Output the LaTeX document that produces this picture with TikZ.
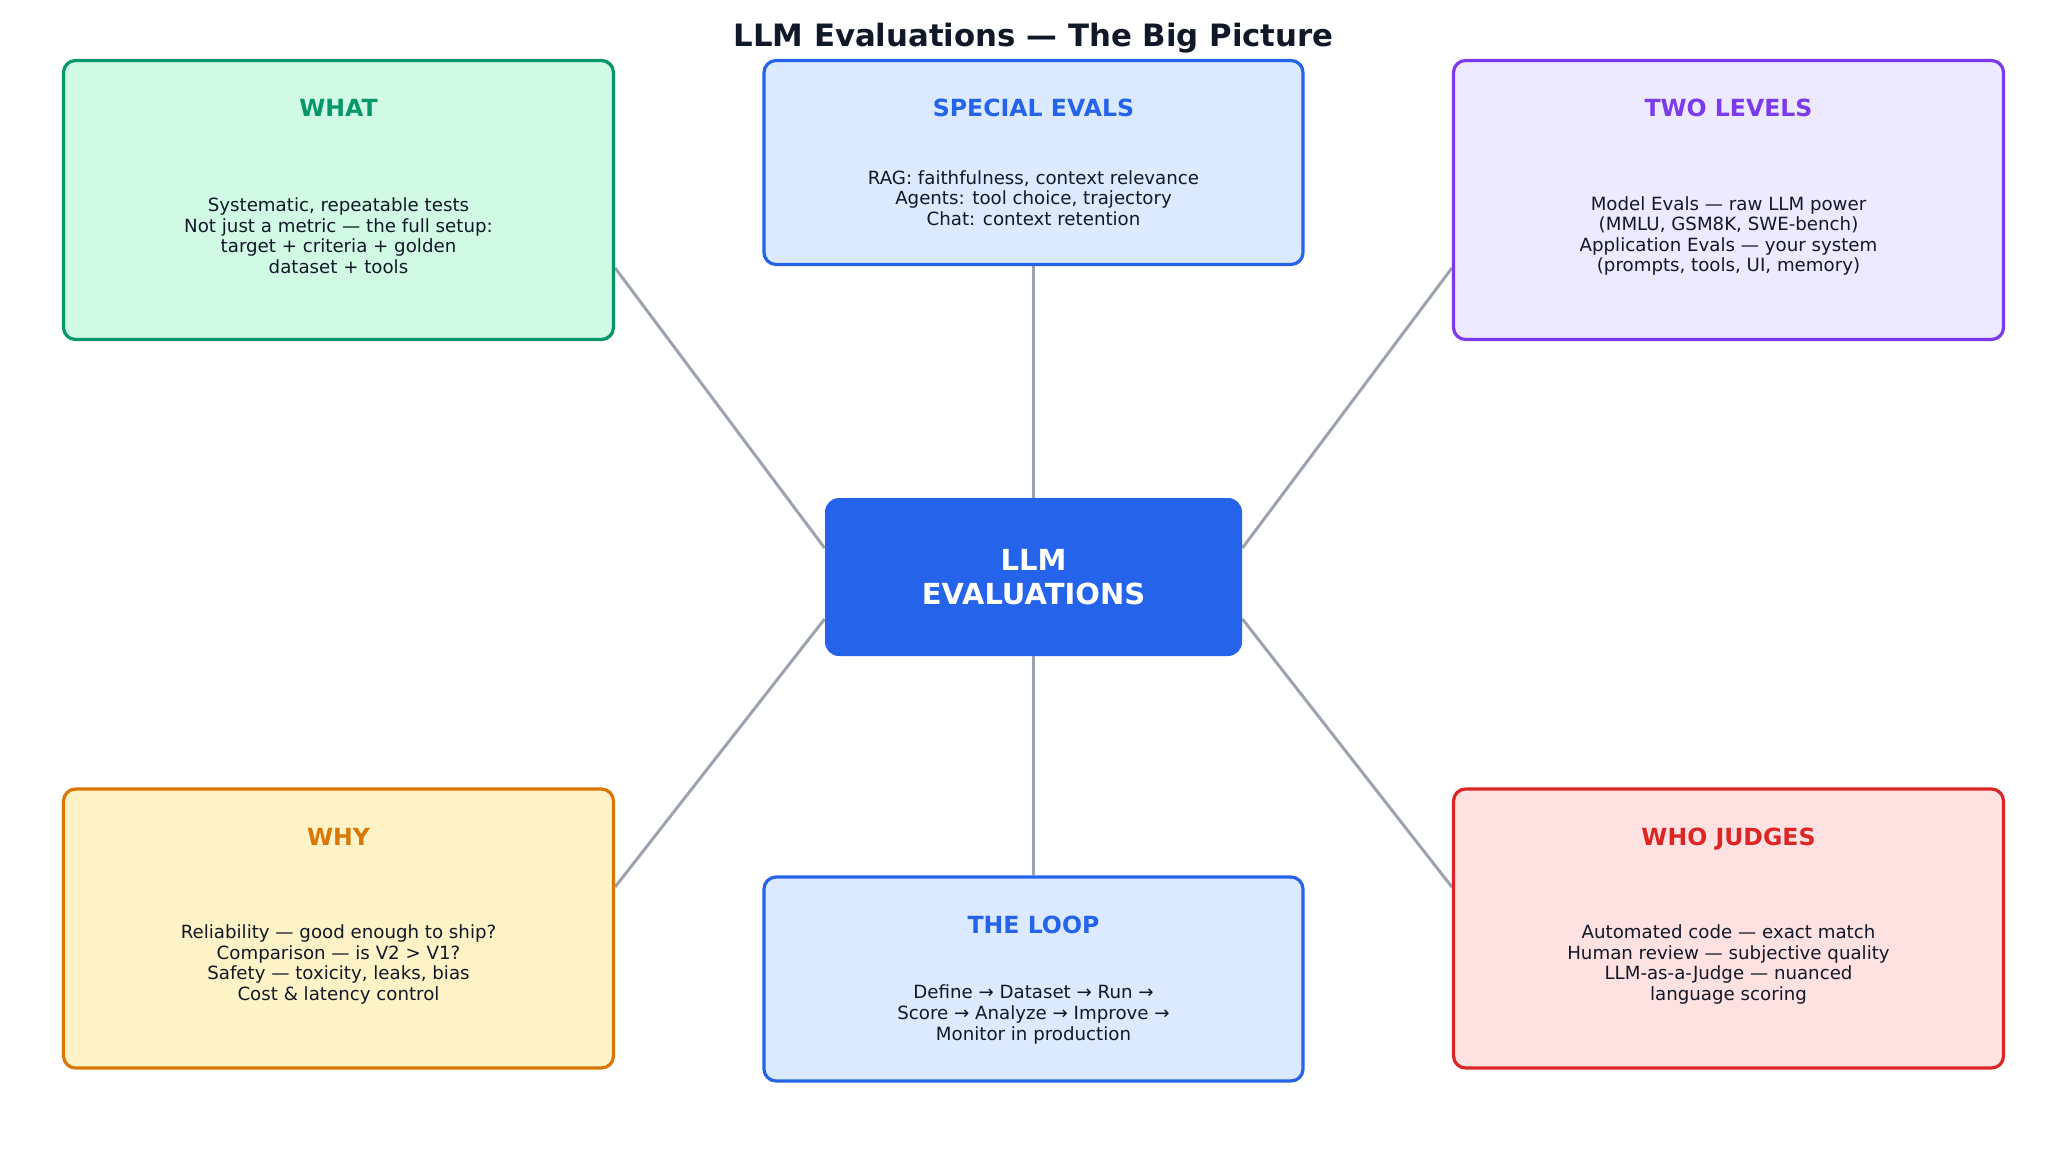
\documentclass[tikz,border=0pt]{standalone}
\usepackage{fontspec}
\setmainfont{DejaVu Sans}
\usepackage{tikz}
\usetikzlibrary{positioning,backgrounds}
\definecolor{inkdark}{HTML}{111827}
\definecolor{spokegray}{HTML}{9CA3AF}
\definecolor{hubblue}{HTML}{2563EB}
\definecolor{whatline}{HTML}{059669}
\definecolor{whatfill}{HTML}{D1FAE5}
\definecolor{bluefill}{HTML}{DBEAFE}
\definecolor{twoline}{HTML}{7C3AED}
\definecolor{twofill}{HTML}{EDE9FE}
\definecolor{whyline}{HTML}{D97706}
\definecolor{whyfill}{HTML}{FEF3C7}
\definecolor{wholine}{HTML}{DC2626}
\definecolor{whofill}{HTML}{FEE2E2}

\begin{document}
\begin{tikzpicture}[x = .5pt, y = -.5pt,
    card/.style 2 args = {draw = #1, fill = #2, line width = 1.6pt, rounded corners = 6pt, inner sep = 0pt},
    bigcard/.style = {minimum width = 275pt, minimum height = 139.5pt},
    midcard/.style = {minimum width = 269.5pt, minimum height = 102pt},
    cardhead/.style = {font = \fontsize{11.8}{13}\selectfont\bfseries, text = #1, text depth = 0pt},
    cardbody/.style = {font = \fontsize{9.1}{10.3}\selectfont, text = inkdark, align = center},
    spoke/.style = {draw = spokegray, line width = 1.5pt}]
    \useasboundingbox (0,0) rectangle (2067,1156);
    \node[font = \fontsize{15.4}{18}\selectfont\bfseries, text = inkdark] (title) at (1033.5,38) {LLM Evaluations — The Big Picture};

    % centre
    \node[fill = hubblue, rounded corners = 7pt, minimum width = 208.5pt, minimum height = 79pt, text = white, align = center,
        font = \fontsize{14.5}{17}\selectfont\bfseries] (hub) at (1033.5,577) {LLM\\EVALUATIONS};

    % top row
    \node[card = {whatline}{whatfill}, bigcard] (what) at (338.5,200) {};
    \node[cardhead = whatline] (whathead) at ([yshift = -24.5pt]what.north) {WHAT};
    \node[cardbody] (whatbody) at ([yshift = -88.5pt]what.north) {Systematic, repeatable tests\\Not just a metric — the full setup:\\target + criteria + golden\\dataset + tools};

    \node[card = {hubblue}{bluefill}, midcard] (special) at (1033.5,162.5) {};
    \node[cardhead = hubblue] (specialhead) at ([yshift = -24.5pt]special.north) {SPECIAL EVALS};
    \node[cardbody] (specialbody) at ([yshift = -69.5pt]special.north) {RAG: faithfulness, context relevance\\Agents: tool choice, trajectory\\Chat: context retention};

    \node[card = {twoline}{twofill}, bigcard] (two) at (1728.5,200) {};
    \node[cardhead = twoline] (twohead) at ([yshift = -24.5pt]two.north) {TWO LEVELS};
    \node[cardbody] (twobody) at ([yshift = -88.5pt]two.north) {Model Evals — raw LLM power\\(MMLU, GSM8K, SWE-bench)\\Application Evals — your system\\(prompts, tools, UI, memory)};

    % bottom row
    \node[card = {whyline}{whyfill}, bigcard] (why) at (338.5,928.5) {};
    \node[cardhead = whyline] (whyhead) at ([yshift = -24.5pt]why.north) {WHY};
    \node[cardbody] (whybody) at ([yshift = -88.5pt]why.north) {Reliability — good enough to ship?\\Comparison — is V2 > V1?\\Safety — toxicity, leaks, bias\\Cost \& latency control};

    \node[card = {hubblue}{bluefill}, midcard] (loop) at (1033.5,979) {};
    \node[cardhead = hubblue] (loophead) at ([yshift = -24.5pt]loop.north) {THE LOOP};
    \node[cardbody] (loopbody) at ([yshift = -69.5pt]loop.north) {Define → Dataset → Run →\\Score → Analyze → Improve →\\Monitor in production};

    \node[card = {wholine}{whofill}, bigcard] (who) at (1728.5,928.5) {};
    \node[cardhead = wholine] (whohead) at ([yshift = -24.5pt]who.north) {WHO JUDGES};
    \node[cardbody] (whobody) at ([yshift = -88.5pt]who.north) {Automated code — exact match\\Human review — subjective quality\\LLM-as-a-Judge — nuanced\\language scoring};

    \begin{scope}[on background layer]
        \draw[spoke] ([yshift = 14.5pt]hub.west) -- ([yshift = -34pt]what.east);
        \draw[spoke] ([yshift = 14.5pt]hub.east) -- ([yshift = -34pt]two.west);
        \draw[spoke] ([yshift = -21pt]hub.west) -- ([yshift = 20.75pt]why.east);
        \draw[spoke] ([yshift = -21pt]hub.east) -- ([yshift = 20.75pt]who.west);
        \draw[spoke] (hub.north) -- (special.south);
        \draw[spoke] (hub.south) -- (loop.north);
    \end{scope}
\end{tikzpicture}
\end{document}
